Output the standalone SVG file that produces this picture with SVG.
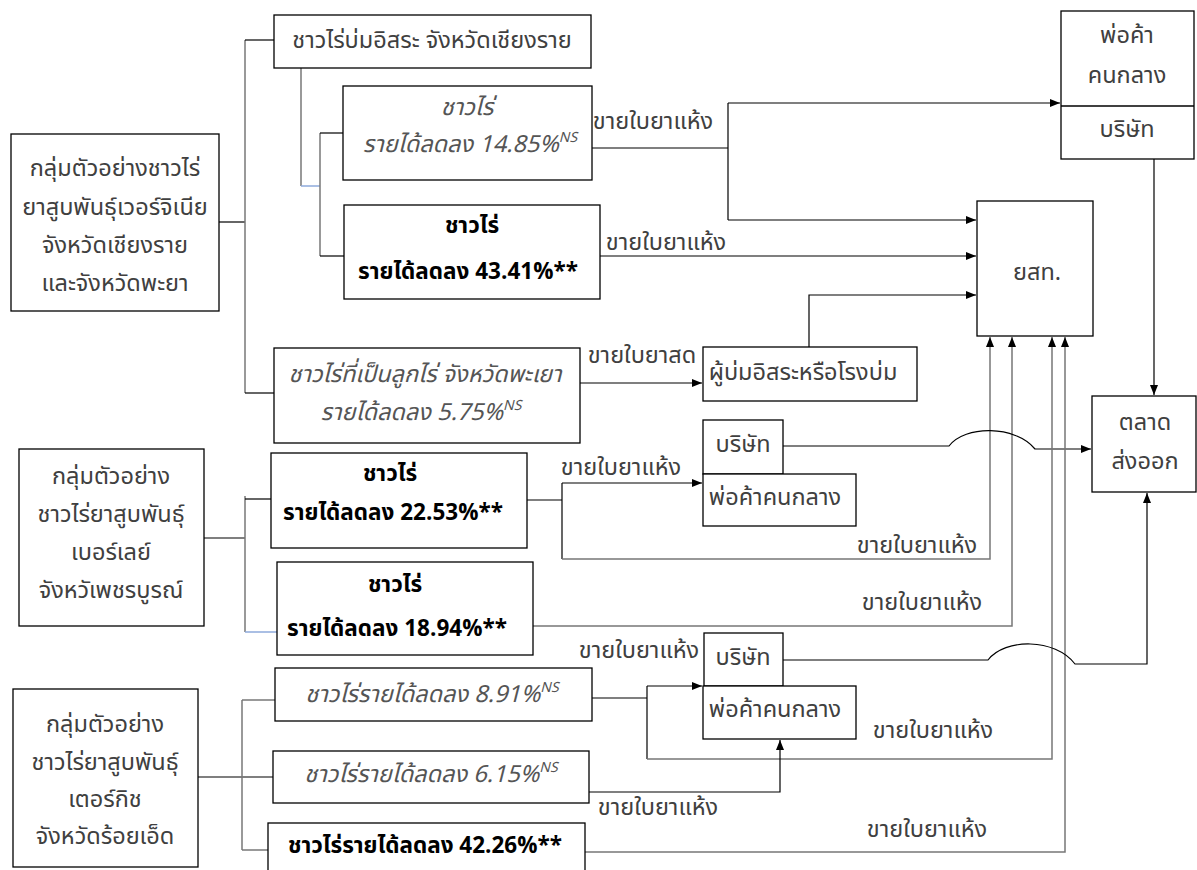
<svg xmlns="http://www.w3.org/2000/svg" width="1197" height="870" viewBox="0 0 1197 870">
<defs>
<marker id="ah" markerWidth="10" markerHeight="8" refX="10" refY="4" orient="auto" markerUnits="userSpaceOnUse">
<path d="M0,0 L10,4 L0,8 Z" fill="#000"/>
</marker>
<style>
.box{fill:#fff;stroke:#000;stroke-width:1.3}
text{font-family:"Tahoma","Noto Sans Thai","Leelawadee UI","DejaVu Sans",sans-serif;font-size:23.5px;fill:#404040;text-anchor:middle}
.it{font-style:italic;fill:#555}
.bd{font-weight:bold;fill:#000;font-size:22.5px}
.sup{font-size:14px}
.ln{fill:none;stroke:#000;stroke-width:1.2}
.gr{fill:none;stroke:#777;stroke-width:1.5}
.bl{fill:none;stroke:#8eaadb;stroke-width:1.5}
.ar{marker-end:url(#ah)}
</style>
</defs>
<rect width="1197" height="870" fill="#fff"/>

<g id="connectors">
<path class="ln" d="M219,222 H245"/>
<path class="gr" d="M245,40 V393"/>
<path class="ln" d="M245,40 H274"/>
<path class="ln" d="M245,393 H274"/>
<path class="gr" d="M301,68 V186"/>
<path class="bl" d="M301,186 H320"/>
<path class="gr" d="M320,133 V256"/>
<path class="ln" d="M320,133 H343"/>
<path class="ln" d="M320,256 H344"/>
<path class="ln" d="M592,148 H728"/>
<path class="ln" d="M728,103 V220"/>
<path class="ln ar" d="M728,103 H1060"/>
<path class="ln ar" d="M728,220 H976"/>
<path class="ln ar" d="M600,256 H976"/>
<path class="ln ar" d="M580,383 H702"/>
<path class="ln ar" d="M809,347 V295 H976"/>
<path class="ln ar" d="M1154,159 V395"/>

<path class="ln" d="M204,538 H245"/>
<path class="gr" d="M245,496 V632"/>
<path class="ln" d="M245,499 H271"/>
<path class="bl" d="M245,632 H278"/>
<path class="ln" d="M527,500 H562"/>
<path class="ln" d="M562,483 V559"/>
<path class="ln ar" d="M562,483 H702"/>
<path class="gr ar" d="M562,559 H990 V337"/>
<path class="gr ar" d="M533,626 H1012 V337"/>
<path class="ln ar" d="M783,446 H949 C965,425 1015,425 1035,449 H1091"/>

<path class="ln" d="M198,777 H273"/>
<path class="gr" d="M242,700 V850"/>
<path class="gr" d="M242,700 H275"/>
<path class="gr" d="M242,850 H268"/>
<path class="ln" d="M592,698 H647"/>
<path class="ln" d="M647,686 V759"/>
<path class="ln ar" d="M647,686 H702"/>
<path class="gr ar" d="M647,759 H1052 V337"/>
<path class="ln ar" d="M589,792 H780 V740"/>
<path class="gr ar" d="M585,852 H1065 V337"/>
<path class="ln ar" d="M783,660 H988 C1005,638 1055,638 1075,664 H1147 V493"/>
</g>

<g id="labels">
<text x="653" y="129">ขายใบยาแห้ง</text>
<text x="666" y="250">ขายใบยาแห้ง</text>
<text x="642" y="363">ขายใบยาสด</text>
<text x="621" y="475">ขายใบยาแห้ง</text>
<text x="917" y="553">ขายใบยาแห้ง</text>
<text x="922" y="610">ขายใบยาแห้ง</text>
<text x="639" y="658">ขายใบยาแห้ง</text>
<text x="933" y="738">ขายใบยาแห้ง</text>
<text x="658" y="815">ขายใบยาแห้ง</text>
<text x="927" y="837">ขายใบยาแห้ง</text>
</g>

<g id="g1">
<rect class="box" x="11" y="134" width="208" height="177"/>
<text x="115" y="176">กลุ่มตัวอย่างชาวไร่</text>
<text x="115" y="215">ยาสูบพันธุ์เวอร์จิเนีย</text>
<text x="115" y="253">จังหวัดเชียงราย</text>
<text x="115" y="291">และจังหวัดพะยา</text>
</g>
<g id="n-cr">
<rect class="box" x="274" y="15" width="317" height="53"/>
<text x="432" y="48">ชาวไร่บ่มอิสระ จังหวัดเชียงราย</text>
</g>
<g id="n-1485">
<rect class="box" x="343" y="86" width="249" height="94"/>
<text class="it" x="467" y="115">ชาวไร่</text>
<text class="it" x="470" y="152">รายได้ลดลง 14.85%<tspan class="sup" dy="-10">NS</tspan></text>
</g>
<g id="n-4341">
<rect class="box" x="344" y="205" width="256" height="94"/>
<text class="bd" x="472" y="233">ชาวไร่</text>
<text class="bd" x="468" y="279">รายได้ลดลง 43.41%**</text>
</g>
<g id="n-yst">
<rect class="box" x="977" y="201" width="116" height="135"/>
<text x="1037" y="280">ยสท.</text>
</g>
<g id="n-trader-top">
<rect class="box" x="1061" y="11" width="133" height="148"/>
<line x1="1061" y1="106" x2="1194" y2="106" stroke="#000" stroke-width="1.3"/>
<text x="1127" y="43">พ่อค้า</text>
<text x="1127" y="83">คนกลาง</text>
<text x="1127" y="137">บริษัท</text>
</g>
<g id="n-export">
<rect class="box" x="1092" y="396" width="104" height="96"/>
<text x="1145" y="430">ตลาด</text>
<text x="1145" y="469">ส่งออก</text>
</g>
<g id="n-luk">
<rect class="box" x="274" y="348" width="306" height="95"/>
<text class="it" x="425" y="382">ชาวไร่ที่เป็นลูกไร่ จังหวัดพะเยา</text>
<text class="it" x="421" y="420">รายได้ลดลง 5.75%<tspan class="sup" dy="-10">NS</tspan></text>
</g>
<g id="n-curer">
<rect class="box" x="703" y="347" width="214" height="54"/>
<text x="803" y="380">ผู้บ่มอิสระหรือโรงบ่ม</text>
</g>
<g id="n-co1">
<rect class="box" x="703" y="420" width="80" height="54"/>
<text x="743" y="452">บริษัท</text>
</g>
<g id="n-tr1">
<rect class="box" x="703" y="474" width="153" height="52"/>
<text x="775" y="505">พ่อค้าคนกลาง</text>
</g>

<g id="g2">
<rect class="box" x="19" y="449" width="185" height="177"/>
<text x="111" y="484">กลุ่มตัวอย่าง</text>
<text x="111" y="522">ชาวไร่ยาสูบพันธุ์</text>
<text x="111" y="560">เบอร์เลย์</text>
<text x="111" y="598">จังหวัเพชรบูรณ์</text>
</g>
<g id="n-2253">
<rect class="box" x="271" y="453" width="256" height="95"/>
<text class="bd" x="390" y="481">ชาวไร่</text>
<text class="bd" x="393" y="520">รายได้ลดลง 22.53%**</text>
</g>
<g id="n-1894">
<rect class="box" x="277" y="562" width="256" height="93"/>
<text class="bd" x="395" y="592">ชาวไร่</text>
<text class="bd" x="397" y="636">รายได้ลดลง 18.94%**</text>
</g>

<g id="g3">
<rect class="box" x="13" y="689" width="185" height="178"/>
<text x="105" y="732">กลุ่มตัวอย่าง</text>
<text x="105" y="770">ชาวไร่ยาสูบพันธุ์</text>
<text x="105" y="807">เตอร์กิช</text>
<text x="105" y="844">จังหวัดร้อยเอ็ด</text>
</g>
<g id="n-891">
<rect class="box" x="275" y="668" width="317" height="53"/>
<text class="it" x="432" y="702">ชาวไร่รายได้ลดลง 8.91%<tspan class="sup" dy="-10">NS</tspan></text>
</g>
<g id="n-615">
<rect class="box" x="273" y="751" width="316" height="52"/>
<text class="it" x="431" y="782">ชาวไร่รายได้ลดลง 6.15%<tspan class="sup" dy="-10">NS</tspan></text>
</g>
<g id="n-4226">
<rect class="box" x="268" y="823" width="317" height="52"/>
<text class="bd" x="425" y="853">ชาวไร่รายได้ลดลง 42.26%**</text>
</g>
<g id="n-co2">
<rect class="box" x="704" y="633" width="79" height="53"/>
<text x="743" y="665">บริษัท</text>
</g>
<g id="n-tr2">
<rect class="box" x="703" y="686" width="153" height="53"/>
<text x="775" y="717">พ่อค้าคนกลาง</text>
</g>
</svg>
